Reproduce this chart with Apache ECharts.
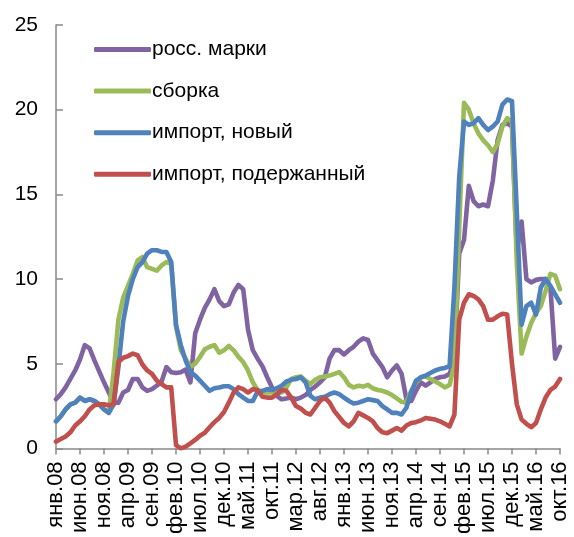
<!DOCTYPE html>
<html>
<head>
<meta charset="utf-8">
<script src="https://cdn.jsdelivr.net/npm/echarts@6/dist/echarts.min.js"></script>
<style>
html,body{margin:0;padding:0;background:#fff;}
#chart{width:574px;height:537px;}
</style>
</head>
<body>
<div id="chart"></div>
<script>
// Month abbreviations and years used to build the category labels (Jan 2008 – Oct 2016)
const monthNames = ['янв','фев','мар','апр','май','июн','июл','авг','сен','окт','ноя','дек'];
const years = ['08','09','10','11','12','13','14','15','16'];
const lastMonthIndex2016 = 9; // октябрь
const categories = [];
years.forEach((y) => {
  monthNames.forEach((m, mi) => {
    if (y === '16' && mi > lastMonthIndex2016) return;
    categories.push(m + '.' + y);
  });
});

const seriesNames = ['росс. марки', 'сборка', 'импорт, новый', 'импорт, подержанный'];

const russianBrands = [
  2.9,3.2,3.6,4.1,4.6,5.25,6.1,5.9,5.2,4.55,3.9,3.3,
  2.7,2.7,3.3,3.45,4.1,4.1,3.6,3.4,3.5,3.7,3.95,4.8,
  4.5,4.45,4.5,4.65,3.9,6.8,7.6,8.3,8.8,9.4,8.7,8.4,
  8.5,9.2,9.65,9.4,7.0,5.8,5.3,4.85,4.2,3.6,3.1,2.9,
  2.95,3.0,2.9,3.0,3.15,3.45,3.65,3.9,4.2,5.3,5.8,5.8,
  5.55,5.8,6.0,6.3,6.5,6.4,5.6,5.2,4.8,4.2,4.6,4.9,
  4.4,2.9,2.8,3.4,3.9,3.7,3.9,4.1,4.2,4.25,4.4,5.2,
  11.5,12.3,15.5,14.6,14.3,14.4,14.3,15.8,18.2,19.1,19.2,19.0,
  11.6,13.4,10.0,9.8,9.95,10.0,10.0,9.5,5.3,6.0
];

const assembly = [
  1.6,1.9,2.3,2.6,2.7,3.0,2.8,2.9,2.8,2.6,2.3,2.1,
  4.5,7.6,8.9,9.6,10.3,11.1,11.3,10.7,10.6,10.5,10.8,11.0,
  10.9,7.2,5.8,5.3,4.8,5.0,5.4,5.85,6.0,6.1,5.65,5.8,
  6.05,5.8,5.4,5.1,4.6,3.9,3.45,3.3,3.3,3.3,3.3,3.3,
  3.6,4.1,4.2,4.25,4.0,3.8,4.05,4.2,4.25,4.3,4.4,4.5,
  4.2,3.75,3.6,3.7,3.65,3.75,3.55,3.45,3.4,3.3,3.15,2.95,
  2.75,2.7,3.4,3.9,4.2,4.25,4.1,3.95,3.8,3.6,3.75,5.0,
  13.0,20.4,20.0,19.2,18.6,18.2,17.9,17.5,18.0,19.0,19.5,19.3,
  11.0,5.6,6.6,7.4,8.0,8.4,9.3,10.3,10.2,9.4
];

const importNew = [
  1.6,1.9,2.3,2.6,2.7,3.0,2.8,2.9,2.8,2.6,2.3,2.1,
  2.6,4.8,7.5,9.0,10.0,10.7,11.0,11.5,11.7,11.7,11.6,11.6,
  11.0,7.3,6.1,5.2,4.5,4.3,4.0,3.7,3.4,3.55,3.6,3.67,
  3.67,3.5,3.2,3.0,2.8,2.8,3.35,3.4,3.5,3.45,3.55,3.7,
  3.95,4.05,4.1,4.2,3.9,3.1,2.9,3.0,3.05,3.2,3.3,3.2,
  3.0,2.8,2.65,2.7,2.8,2.9,2.85,2.8,2.5,2.3,2.1,2.1,
  2.0,2.4,3.3,4.0,4.2,4.3,4.45,4.6,4.7,4.75,4.85,9.5,
  16.0,19.3,19.1,19.2,19.5,19.1,18.8,19.0,19.3,20.3,20.6,20.5,
  14.0,7.3,8.4,8.6,7.9,9.5,10.0,9.6,9.1,8.6
];

const importUsed = [
  0.4,0.55,0.7,0.95,1.35,1.6,1.9,2.3,2.55,2.6,2.6,2.55,
  2.6,5.1,5.35,5.45,5.6,5.5,4.95,4.6,4.4,4.0,3.8,3.6,
  3.6,0.2,0.0,0.1,0.3,0.5,0.75,0.92,1.25,1.55,1.8,2.15,
  2.7,3.3,3.6,3.5,3.3,3.5,3.45,3.05,3.0,3.0,3.2,3.45,
  3.4,3.0,2.5,2.35,2.1,2.0,2.4,2.8,3.0,2.7,2.2,1.85,
  1.5,1.3,1.6,2.1,1.95,1.8,1.6,1.2,0.95,0.9,1.05,1.2,
  1.05,1.35,1.5,1.55,1.65,1.8,1.75,1.7,1.6,1.45,1.3,2.0,
  7.6,8.6,9.1,9.0,8.8,8.4,7.6,7.6,7.8,7.95,7.9,5.0,
  2.6,1.7,1.45,1.25,1.5,2.3,3.0,3.45,3.65,4.1
];

const yTicks = { min: 0, max: 25, step: 5 };
const colors = ['#8064A2', '#9BBB59', '#4F81BD', '#C0504D'];
const seriesData = [russianBrands, assembly, importNew, importUsed];

const FONT = 'Liberation Sans, Arial, sans-serif';
const axisGray = '#898989';

const chart = echarts.init(document.getElementById('chart'), null, { renderer: 'canvas' });
chart.setOption({
  animation: false,
  backgroundColor: '#ffffff',
  grid: { left: 56, top: 25, width: 504, height: 424, containLabel: false },
  legend: {
    orient: 'vertical',
    left: 89,
    top: 34,
    itemWidth: 57,
    itemHeight: 5,
    itemGap: 20.6,
    icon: 'roundRect',
    textStyle: { fontSize: 21, color: '#000', fontFamily: FONT, padding: [0, 0, 0, -4] },
    data: seriesNames
  },
  xAxis: {
    type: 'category',
    boundaryGap: false,
    data: categories,
    axisLine: { lineStyle: { color: axisGray, width: 1.5 } },
    axisTick: { interval: 4, length: 6, lineStyle: { color: axisGray, width: 1.5 } },
    axisLabel: { interval: 4, rotate: 90, fontSize: 22, color: '#000', fontFamily: FONT, margin: 13 },
    splitLine: { show: false }
  },
  yAxis: {
    type: 'value',
    min: yTicks.min,
    max: yTicks.max,
    interval: yTicks.step,
    axisLine: { show: true, lineStyle: { color: axisGray, width: 1.5 } },
    axisTick: { show: true, inside: true, length: 7, lineStyle: { color: axisGray, width: 1.5 } },
    axisLabel: { fontSize: 21, color: '#000', fontFamily: FONT, margin: 18 },
    splitLine: { show: false }
  },
  series: seriesNames.map((name, k) => ({
    name: name,
    type: 'line',
    data: seriesData[k],
    symbol: 'none',
    smooth: false,
    color: colors[k],
    lineStyle: { width: 4.6, color: colors[k], cap: 'round', join: 'round' },
    z: 2 + k
  }))
});
</script>
</body>
</html>
